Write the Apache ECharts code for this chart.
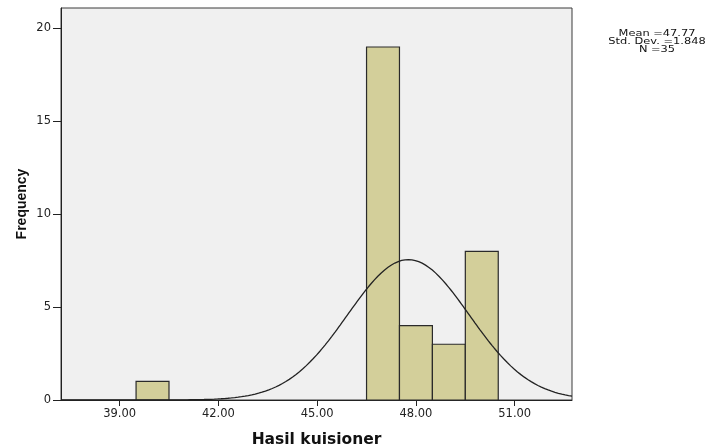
<!DOCTYPE html>
<html>
<head>
<meta charset="utf-8">
<script src="https://cdn.jsdelivr.net/npm/echarts@6/dist/echarts.min.js"></script>
<style>html,body{margin:0;padding:0;background:#fff}#c{width:712px;height:444px}</style>
</head>
<body>
<div id="c"></div>
<script>
// Histogram bins (centre of each 1-unit bin) and their frequencies
const binCenters = [40, 47, 48, 49, 50];
const frequencies = [1, 19, 4, 3, 8];
// axis tick labels
const xTicks = [39, 42, 45, 48, 51];
const yTicks = [0, 5, 10, 15, 20];
// Summary statistics printed on the chart (define the fitted normal curve)
const mean = 47.77;
const stdDev = 1.848;
const nObs = 35;
const binWidth = 1;

const xMin = 37.22, xMax = 52.74;

// Fitted normal curve scaled to counts (as drawn by SPSS)
const curve = [];
for (let i = 0; i <= 300; i++) {
  const x = xMin + (xMax - xMin) * i / 300;
  const z = (x - mean) / stdDev;
  curve.push([x, nObs * binWidth / (stdDev * Math.sqrt(2 * Math.PI)) * Math.exp(-0.5 * z * z)]);
}

const barData = binCenters.map((c, i) => [c, frequencies[i]]);

const chart = echarts.init(document.getElementById('c'), null, {renderer: 'canvas'});
chart.setOption({
  animation: false,
  backgroundColor: '#ffffff',
  textStyle: {fontFamily: 'DejaVu Sans, sans-serif'},
  grid: {left: 61, top: 8, right: 140, bottom: 44, containLabel: false, outerBoundsMode: 'none',
         show: true, backgroundColor: '#f0f0f0', borderColor: '#3a3a3a', borderWidth: 1},
  xAxis: {
    type: 'value', min: xMin, max: xMax,
    name: 'Hasil kuisioner', nameLocation: 'middle', nameGap: 32, nameMoveOverlap: false,
    nameTextStyle: {fontWeight: 'bold', fontSize: 15.5, color: '#111', fontFamily: 'DejaVu Sans, sans-serif'},
    axisLine: {show: true, onZero: false, lineStyle: {color: '#222', width: 1}},
    axisTick: {show: true, length: 6, lineStyle: {color: '#222'}, customValues: xTicks},
    axisLabel: {color: '#222', fontSize: 11.5, margin: 8, customValues: xTicks, formatter: v => v.toFixed(2)},
    splitLine: {show: false}
  },
  yAxis: {
    type: 'value', min: 0, max: 21.1,
    name: 'Frequency', nameLocation: 'middle', nameGap: 32, nameRotate: 90, nameMoveOverlap: false,
    nameTextStyle: {fontWeight: 'bold', fontSize: 14, color: '#111', fontFamily: 'Liberation Sans, Arial, sans-serif'},
    axisLine: {show: true, lineStyle: {color: '#222', width: 1}},
    axisTick: {show: true, length: 8, lineStyle: {color: '#222'}, customValues: yTicks},
    axisLabel: {color: '#222', fontSize: 11.5, margin: 10, customValues: yTicks},
    splitLine: {show: false}
  },
  series: [
    {
      type: 'custom',
      data: barData,
      z: 2,
      renderItem: function (params, api) {
        const c = api.value(0), f = api.value(1);
        const p0 = api.coord([c - binWidth / 2, f]);
        const p1 = api.coord([c + binWidth / 2, 0]);
        return {
          type: 'rect',
          shape: {x: p0[0], y: p0[1], width: p1[0] - p0[0], height: p1[1] - p0[1]},
          style: {fill: '#d3cf9a', stroke: '#2a2a2a', lineWidth: 1.2}
        };
      }
    },
    {
      type: 'line', data: curve, showSymbol: false, smooth: false, z: 3,
      lineStyle: {color: '#222', width: 1.3}
    }
  ],
  graphic: [
    {type: 'text', x: 657, y: 29.5, scaleX: 1.2, style: {text: 'Mean =47.77\nStd. Dev. =1.848\nN =35', fontSize: 9.5, lineHeight: 8, fill: '#111', align: 'center', verticalAlign: 'top', fontFamily: 'DejaVu Sans, sans-serif'}}
  ]
});
</script>
</body>
</html>
